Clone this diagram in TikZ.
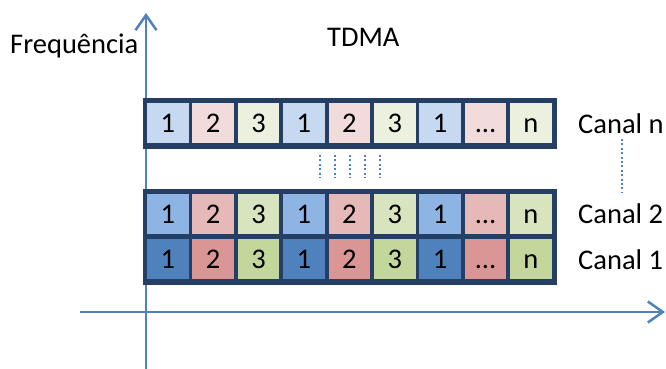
\documentclass[tikz,border=0pt]{standalone}
\usepackage{fontspec}
\setmainfont{Carlito}
\usetikzlibrary{arrows.meta}
\definecolor{axiscol}{HTML}{4F81BD}
\definecolor{framecol}{HTML}{243F63}
\definecolor{bA}{HTML}{C6D9F1}
\definecolor{rA}{HTML}{F2DCDB}
\definecolor{gA}{HTML}{EBF1DE}
\definecolor{bB}{HTML}{8EB4E3}
\definecolor{rB}{HTML}{E6B9B8}
\definecolor{gB}{HTML}{D7E4BD}
\definecolor{bC}{HTML}{4F81BD}
\definecolor{rC}{HTML}{D99694}
\definecolor{gC}{HTML}{C3D69B}
\newcommand\celldots{...}
\tikzset{
  axisline/.style={draw=axiscol, line width=2.5pt, -{Straight Barb[length=15pt,width=21pt]}},
  cell/.style={minimum width=41.5pt, minimum height=40.5pt, inner sep=0pt, text height=19pt, text depth=0pt, font=\fontsize{28.5}{30}\selectfont},
  lbl/.style={inner sep=0pt, anchor=base west, font=\fontsize{28.5}{30}\selectfont},
  dots/.style={draw=axiscol, line width=2pt, dash pattern=on 2pt off 2.4pt},
}
\begin{document}
\begin{tikzpicture}[x=1pt, y=-1pt]
\useasboundingbox (0,0) rectangle (666,369);
% axes
\coordinate (yb) at (146,369);
\coordinate (yt) at (146,13);
\coordinate (xl) at (80,312);
\coordinate (xr) at (665,312);
\draw[axisline] (yb) -- (yt);
\draw[axisline] (xl) -- (xr);
% frames
\fill[framecol] (143,97.5) rectangle (556.5,148.5);
\fill[framecol] (143,189) rectangle (556.5,284.5);
% rows
\foreach \r/\yc/\b/\rr/\g in {n/123/bA/rA/gA, two/214/bB/rB/gB, one/259/bC/rC/gC}{
  \foreach \i/\t/\c in {0/1/\b, 1/2/\rr, 2/3/\g, 3/1/\b, 4/2/\rr, 5/3/\g, 6/1/\b, 7/\celldots/\rr, 8/n/\g}{
    \node[cell, fill=\c] (c\r\i) at ({167.75+45.4*\i},\yc) {\t};
  }
}
% labels
\node[lbl] (freq) at (10,53) {Frequência};
\node[lbl] (tdma) at (327,47) {TDMA};
\node[lbl] (canaln) at (578,133) {Canal n};
\node[lbl] (canal2) at (578,223) {Canal 2};
\node[lbl] (canal1) at (578,269) {Canal 1};
% dotted lines
\foreach \k/\x in {1/319.5,2/335,3/350,4/365,5/380}{
  \coordinate (dt\k) at (\x,155);
  \coordinate (db\k) at (\x,178);
  \draw[dots] (dt\k) -- (db\k);
}
\coordinate (vt) at (622,139);
\coordinate (vb) at (622,192);
\draw[dots] (vt) -- (vb);
\end{tikzpicture}
\end{document}
